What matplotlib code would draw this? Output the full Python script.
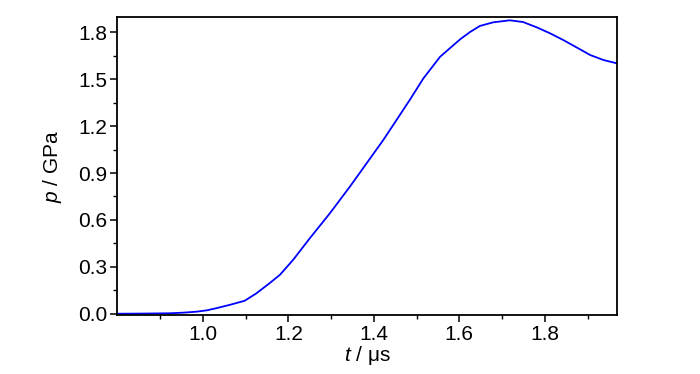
import numpy as np
import matplotlib
matplotlib.use("Agg")
import matplotlib.pyplot as plt
from matplotlib.ticker import MultipleLocator, FixedLocator

# dados
t_us = [0.80, 0.86, 0.923, 0.955, 0.985, 1.01, 1.031, 1.062, 1.098, 1.125, 1.156,
        1.180, 1.211, 1.250, 1.297, 1.344, 1.383, 1.422, 1.453, 1.485, 1.516,
        1.555, 1.602, 1.625, 1.648, 1.679, 1.718, 1.749, 1.781, 1.812, 1.843,
        1.874, 1.906, 1.937, 1.968]
p_gpa = [0.000, 0.001, 0.003, 0.007, 0.013, 0.022, 0.035, 0.056, 0.083, 0.130, 0.195,
         0.248, 0.344, 0.482, 0.642, 0.813, 0.962, 1.111, 1.239, 1.372, 1.506,
         1.644, 1.756, 1.802, 1.841, 1.864, 1.877, 1.866, 1.832, 1.794, 1.751,
         1.704, 1.655, 1.623, 1.602]

x_ticks = [1.0, 1.2, 1.4, 1.6, 1.8]

plt.rcParams['font.family'] = ['Liberation Sans', 'DejaVu Sans']
plt.rcParams['mathtext.fontset'] = 'custom'
plt.rcParams['mathtext.it'] = 'Liberation Sans:italic'
plt.rcParams['mathtext.rm'] = 'Liberation Sans'

fig = plt.figure(figsize=(7, 3.74), dpi=100)
ax = fig.add_axes([0.1676, 0.1578, 0.7134, 0.7975])

ax.plot(t_us, p_gpa, color='#0000ff', linewidth=1.3)

ax.set_xlim(0.8, 1.968)
ax.set_ylim(-0.008, 1.9)
ax.xaxis.set_major_locator(FixedLocator(x_ticks))
ax.xaxis.set_minor_locator(FixedLocator([0.9, 1.1, 1.3, 1.5, 1.7, 1.9]))
ax.yaxis.set_major_locator(MultipleLocator(0.3))
ax.yaxis.set_minor_locator(MultipleLocator(0.15))
ax.xaxis.set_major_formatter(plt.FuncFormatter(lambda v, _: f"{v:.1f}"))
ax.yaxis.set_major_formatter(plt.FuncFormatter(lambda v, _: f"{abs(v):.1f}"))

ax.tick_params(which='major', direction='out', length=5, width=1.1, labelsize=15, pad=2)
ax.tick_params(which='minor', direction='out', length=3, width=1.0)
for s in ax.spines.values():
    s.set_linewidth(1.3)

ax.set_xlabel(r'$t$ / μs', fontsize=15, labelpad=0)
ax.set_ylabel(r'$p$ / GPa', fontsize=15, labelpad=10)

fig.savefig("out.png", dpi=100)
